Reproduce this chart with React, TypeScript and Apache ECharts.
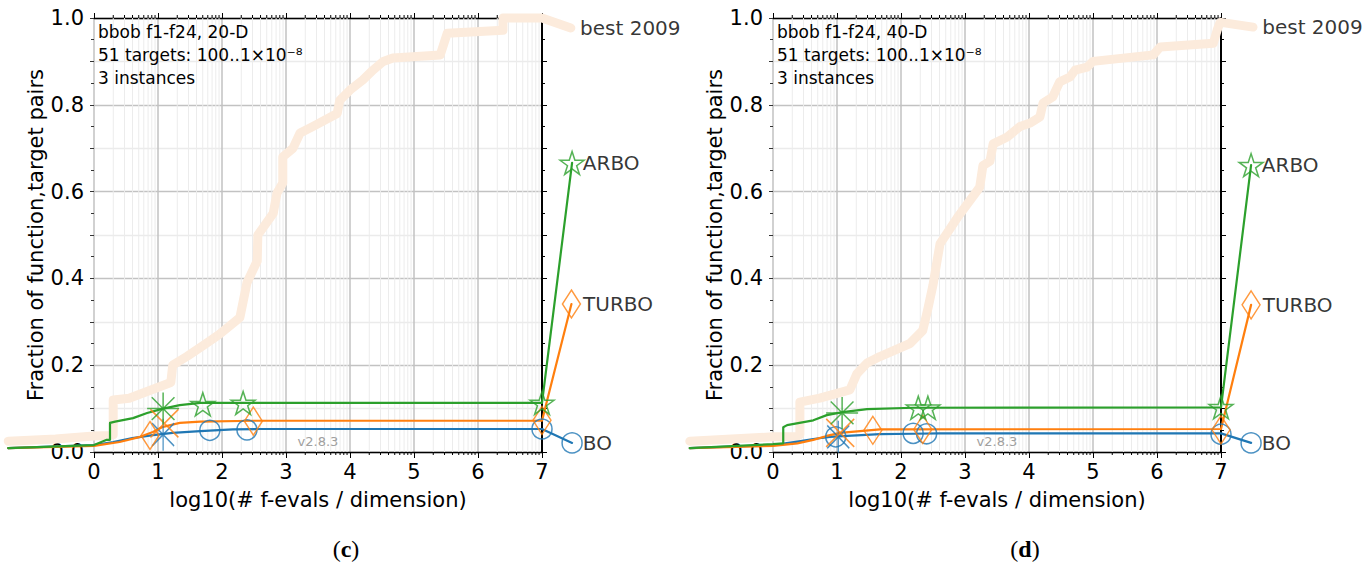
import React, { useEffect, useRef } from 'react';
import * as echarts from 'echarts';

// ---------- data (x = log10(# f-evals / dimension), y = fraction) ----------
const BEST_C = [[-1.34,0.025],[-0.6,0.03],[0,0.037],[0.25,0.038],[0.3,0.04],[0.3,0.12],[0.55,0.124],[1.2,0.16],[1.23,0.2],[1.45,0.22],[1.7,0.245],[1.95,0.27],[2.2,0.3],[2.28,0.31],[2.39,0.39],[2.55,0.44],[2.56,0.5],[2.8,0.55],[2.86,0.597],[2.95,0.62],[2.95,0.68],[3.11,0.7],[3.22,0.735],[3.42,0.75],[3.8,0.78],[3.84,0.81],[4.0,0.834],[4.2,0.857],[4.36,0.88],[4.52,0.9],[4.67,0.908],[5.41,0.915],[5.52,0.965],[6.39,0.972],[6.39,1.0],[7.0,1.0],[7.45,0.977]];
const BO_C = [[-1.34,0.009],[0,0.016],[0.3,0.023],[0.6,0.032],[0.92,0.039],[1.23,0.044],[1.66,0.048],[2.17,0.052],[2.6,0.053],[7,0.053],[7.47,0.021]];
const TURBO_C = [[-1.34,0.009],[0,0.014],[0.4,0.023],[0.72,0.035],[0.92,0.046],[1.08,0.058],[1.34,0.067],[1.66,0.07],[2.5,0.072],[7,0.072],[7.46,0.341]];
const ARBO_C = [[-1.34,0.009],[0,0.016],[0.2,0.028],[0.25,0.028],[0.25,0.067],[0.33,0.07],[0.61,0.078],[0.83,0.09],[1.08,0.1],[1.34,0.108],[1.66,0.113],[7,0.113],[7.47,0.666]];
const BO_C_MARKS = [[1.81,0.05],[2.39,0.051],[7,0.053]];
const TURBO_C_MARKS = [[0.875,0.038],[2.49,0.071],[7,0.073]];
const ARBO_C_MARKS = [[1.7,0.11],[2.33,0.113],[7,0.113]];
const BO_C_BUDGET = [[1.08,0.04]];
const TURBO_C_BUDGET = [[1.1,0.066]];
const ARBO_C_BUDGET = [[1.08,0.1]];

const BEST_D = [[-1.3,0.025],[0,0.035],[0.38,0.036],[0.42,0.04],[0.42,0.115],[0.73,0.124],[1.2,0.143],[1.31,0.18],[1.47,0.205],[1.67,0.22],[2.14,0.25],[2.34,0.28],[2.42,0.33],[2.5,0.385],[2.56,0.437],[2.61,0.48],[2.88,0.54],[3.08,0.58],[3.23,0.61],[3.28,0.66],[3.39,0.67],[3.44,0.71],[3.66,0.726],[3.86,0.75],[4.02,0.758],[4.17,0.772],[4.22,0.804],[4.37,0.818],[4.48,0.853],[4.64,0.864],[4.72,0.88],[4.91,0.887],[5.0,0.9],[5.94,0.915],[6.05,0.933],[6.88,0.942],[6.94,0.972],[6.98,0.988],[7.0,0.99],[7.5,0.979]];
const BO_D = [[-1.3,0.009],[0,0.016],[0.38,0.024],[0.63,0.03],[0.89,0.035],[1.16,0.037],[1.67,0.041],[2.19,0.042],[2.6,0.043],[7,0.043],[7.47,0.021]];
const TURBO_D = [[-1.3,0.009],[0,0.014],[0.38,0.02],[0.63,0.028],[0.84,0.037],[1.05,0.044],[1.36,0.048],[1.67,0.052],[7,0.053],[7.47,0.339]];
const ARBO_D = [[-1.3,0.009],[0,0.018],[0.16,0.02],[0.16,0.057],[0.22,0.062],[0.63,0.073],[0.84,0.085],[1.09,0.092],[1.47,0.099],[2.19,0.102],[7,0.103],[7.47,0.661]];
const BO_D_MARKS = [[0.98,0.035],[2.19,0.043],[2.4,0.042],[7,0.041]];
const TURBO_D_MARKS = [[1.56,0.05],[2.34,0.052],[7,0.051]];
const ARBO_D_MARKS = [[2.27,0.102],[2.42,0.102],[7,0.103]];
const BO_D_BUDGET = [[1.02,0.035]];
const TURBO_D_BUDGET = [[1.05,0.044]];
const ARBO_D_BUDGET = [[1.08,0.09]];

const X_TICKS = [0, 1, 2, 3, 4, 5, 6, 7];
const Y_TICKS = ['0.0', '0.2', '0.4', '0.6', '0.8', '1.0'];
const DECADES = [0, 1, 2, 3, 4, 5, 6];
const LOG_OFFSETS = [0.301, 0.477, 0.602, 0.699, 0.778, 0.845, 0.903, 0.954];

const PANELS = [
  { title: 'bbob f1-f24, 20-D', caption: 'c', best: BEST_C, bo: BO_C, turbo: TURBO_C, arbo: ARBO_C,
    boM: BO_C_MARKS, turboM: TURBO_C_MARKS, arboM: ARBO_C_MARKS, boB: BO_C_BUDGET, turboB: TURBO_C_BUDGET, arboB: ARBO_C_BUDGET },
  { title: 'bbob f1-f24, 40-D', caption: 'd', best: BEST_D, bo: BO_D, turbo: TURBO_D, arbo: ARBO_D,
    boM: BO_D_MARKS, turboM: TURBO_D_MARKS, arboM: ARBO_D_MARKS, boB: BO_D_BUDGET, turboB: TURBO_D_BUDGET, arboB: ARBO_D_BUDGET },
];

// ---------- styles ----------
const FONT = 'DejaVu Sans';
const BLUE = '#1f77b4';
const ORANGE = '#ff7f0e';
const GREEN = '#2ca02c';
const PEACH = '#fcebdc';
const GRID_LEFT = [94, 773];
const GRID_TOP = 18;
const GRID_W = 448;
const GRID_H = 434;

const STAR = 'path://M10 0L12.25 6.91L19.51 6.91L13.63 11.18L15.88 18.09L10 13.82L4.12 18.09L6.37 11.18L0.49 6.91L7.75 6.91Z';
const AST8 = 'path://M10 0L10 20M0 10L20 10M2.9 2.9L17.1 17.1M17.1 2.9L2.9 17.1';
const AST6 = 'path://M10 0L10 20M2.9 2.9L17.1 17.1M17.1 2.9L2.9 17.1';
const XMARK = 'path://M0 0L20 20M20 0L0 20';

const hollow = (c: string) => ({ color: 'rgba(0,0,0,0)', borderColor: c, borderWidth: 1.5 });

function buildOption() {
  const grid: any[] = [];
  const xAxis: any[] = [];
  const yAxis: any[] = [];
  const series: any[] = [];
  const graphic: any[] = [];
  const minorX: number[][] = [];
  DECADES.forEach((d) => LOG_OFFSETS.forEach((o) => minorX.push([d + o, 0])));

  PANELS.forEach((p, i) => {
    const left = GRID_LEFT[i];
    grid.push({ left, top: GRID_TOP, width: GRID_W, height: GRID_H, containLabel: false });
    const xb = i * 2, xt = i * 2 + 1, yl = i * 2, yr = i * 2 + 1;
    xAxis.push({
      type: 'value', gridIndex: i, position: 'bottom', min: 0, max: 7, interval: 1,
      axisLine: { show: true, onZero: false, lineStyle: { color: '#000', width: 1.3 } },
      axisTick: { show: true, inside: false, length: 6, lineStyle: { color: '#000', width: 1 } },
      axisLabel: { show: true, margin: 9, fontSize: 21, color: '#000', fontFamily: FONT,
        formatter: (v: number) => (X_TICKS.includes(v) ? String(v) : '') },
      splitLine: { show: true, lineStyle: { color: '#c2c2c2', width: 1.5 } },
      name: 'log10(# f-evals / dimension)', nameLocation: 'middle', nameGap: 37,
      nameTextStyle: { fontSize: 21, color: '#000', fontFamily: FONT },
    });
    xAxis.push({
      type: 'value', gridIndex: i, position: 'top', min: 0, max: 7, interval: 1,
      axisLine: { show: true, onZero: false, lineStyle: { color: '#000', width: 1.3 } },
      axisTick: { show: true, inside: false, length: 5, lineStyle: { color: '#000', width: 1 } },
      axisLabel: { show: false }, splitLine: { show: false },
    });
    yAxis.push({
      type: 'value', gridIndex: i, position: 'left', min: 0, max: 1, interval: 0.1,
      axisLine: { show: false },
      axisTick: { show: true, inside: false, length: 4, lineStyle: { color: '#333', width: 1 } },
      minorTick: { show: true, splitNumber: 2, length: 3, lineStyle: { color: '#333', width: 1 } },
      axisLabel: { show: true, margin: 10, fontSize: 21, color: '#000', fontFamily: FONT,
        formatter: (v: number) => { const k = Math.round(v * 10); return k % 2 === 0 ? Y_TICKS[k / 2] : ''; } },
      splitLine: { show: true, lineStyle: { color: ['#c2c2c2', '#ebebeb'], width: 1.3 } },
      name: 'Fraction of function,target pairs', nameLocation: 'middle', nameGap: 46, nameRotate: 90,
      nameTextStyle: { fontSize: 21, color: '#000', fontFamily: FONT },
    });
    yAxis.push({
      type: 'value', gridIndex: i, position: 'right', min: 0, max: 1, interval: 0.1,
      axisLine: { show: true, onZero: false, lineStyle: { color: '#000', width: 2 } },
      axisTick: { show: true, inside: false, length: 5, lineStyle: { color: '#000', width: 1 } },
      minorTick: { show: true, splitNumber: 2, length: 3, lineStyle: { color: '#000', width: 1 } },
      axisLabel: { show: false }, splitLine: { show: false },
    });

    const ax = { xAxisIndex: xb, yAxisIndex: yl };
    // minor log grid lines + minor ticks on the bottom and top spines
    series.push({
      type: 'custom', ...ax, silent: true, clip: false, z: 1, data: minorX,
      encode: { x: 0, y: 1 },
      renderItem: (_params: any, api: any) => {
        const v = api.value(0);
        const a = api.coord([v, 0]);
        const b = api.coord([v, 1]);
        return {
          type: 'group',
          children: [
            { type: 'line', shape: { x1: a[0], y1: a[1], x2: b[0], y2: b[1] }, style: { stroke: '#ececec', lineWidth: 1 } },
            { type: 'line', shape: { x1: a[0], y1: a[1], x2: a[0], y2: a[1] + 3 }, style: { stroke: '#000', lineWidth: 1 } },
            { type: 'line', shape: { x1: b[0], y1: b[1], x2: b[0], y2: b[1] - 3 }, style: { stroke: '#000', lineWidth: 1 } },
          ],
        };
      },
    });
    // ECDF curves drawn as polylines (not clipped, they run past both spines)
    const line = (name: string, data: number[][], color: string, width: number, z: number) => ({
      type: 'custom', name, ...ax, data, clip: false, z, silent: true,
      encode: { x: 0, y: 1 },
      renderItem: (params: any, api: any) => {
        if (params.dataIndex !== 0) return null;
        const pts = data.map((d) => api.coord(d));
        return {
          type: 'polyline', shape: { points: pts },
          style: { stroke: color, lineWidth: width, fill: 'none', lineJoin: 'round', lineCap: 'round' },
        };
      },
    });
    series.push(line('best 2009', p.best, PEACH, 9, 2));
    series.push(line('BO', p.bo, BLUE, 2.2, 3));
    series.push(line('TURBO', p.turbo, ORANGE, 2.2, 4));
    series.push(line('ARBO', p.arbo, GREEN, 2.2, 5));

    const marks = (data: number[][], symbol: string, size: any, color: string, z: number) => ({
      type: 'scatter', ...ax, data, clip: false, symbol, symbolSize: size, z, silent: true,
      itemStyle: hollow(color),
    });
    series.push(marks(p.boM, 'circle', 20, BLUE, 6));
    series.push(marks(p.turboM, 'diamond', [18, 28], ORANGE, 7));
    series.push(marks(p.arboM, STAR, [24, 23], GREEN, 8));
    series.push(marks(p.boB, AST6, [22, 32], BLUE, 6));
    series.push(marks(p.turboB, XMARK, [28, 28], ORANGE, 7));
    series.push(marks(p.arboB, AST8, [32, 32], GREEN, 8));

    const endLabel = (name: string, data: number[][], symbol: string, size: any, color: string, dist: number, z: number) => ({
      type: 'scatter', ...ax, data: [data[data.length - 1]], clip: false, symbol, symbolSize: size, z, silent: true,
      itemStyle: hollow(color),
      label: { show: true, position: 'right', distance: dist, formatter: name, fontSize: 20, color: '#000', fontFamily: FONT },
    });
    series.push(endLabel('best 2009', p.best, 'circle', 1, 'rgba(0,0,0,0)', 8, 9));
    series.push(endLabel('ARBO', p.arbo, STAR, [24, 23], GREEN, -2, 9));
    series.push(endLabel('TURBO', p.turbo, 'diamond', [18, 28], ORANGE, 2, 9));
    series.push(endLabel('BO', p.bo, 'circle', 20, BLUE, 0, 9));

    const tx = left + 4;
    graphic.push({ type: 'text', x: tx, y: 32, z: 20, style: { text: p.title, fontSize: 17, fontFamily: FONT, fill: '#000', verticalAlign: 'middle', align: 'left' } });
    graphic.push({ type: 'text', x: tx, y: 55, z: 20, style: { text: '51 targets: 100..1×10⁻⁸', fontSize: 17, fontFamily: FONT, fill: '#000', verticalAlign: 'middle', align: 'left' } });
    graphic.push({ type: 'text', x: tx, y: 78, z: 20, style: { text: '3 instances', fontSize: 17, fontFamily: FONT, fill: '#000', verticalAlign: 'middle', align: 'left' } });
    graphic.push({ type: 'text', x: left + 224, y: 441, z: 20, style: { text: 'v2.8.3', fontSize: 13, fontFamily: FONT, fill: '#a0a0a0', verticalAlign: 'middle', align: 'center' } });
    graphic.push({
      type: 'text', x: left + 252, y: 549, z: 20,
      style: {
        text: '{p|(}{b|' + p.caption + '}{p|)}', verticalAlign: 'middle', align: 'center',
        rich: {
          p: { fontSize: 24, fontFamily: 'Liberation Serif', fill: '#000', fontWeight: 'normal' },
          b: { fontSize: 24, fontFamily: 'Liberation Serif', fill: '#000', fontWeight: 'bold' },
        },
      },
    });
  });

  return { animation: false, backgroundColor: '#fff', grid, xAxis, yAxis, series, graphic };
}

export default function App() {
  const ref = useRef<HTMLDivElement>(null);
  useEffect(() => {
    if (!ref.current) return;
    const chart = echarts.init(ref.current, undefined, { renderer: 'svg' });
    chart.setOption(buildOption() as any);
    return () => chart.dispose();
  }, []);
  return <div ref={ref} style={{ position: 'absolute', left: 0, top: 0, width: 1372, height: 573, background: '#fff' }} />;
}
